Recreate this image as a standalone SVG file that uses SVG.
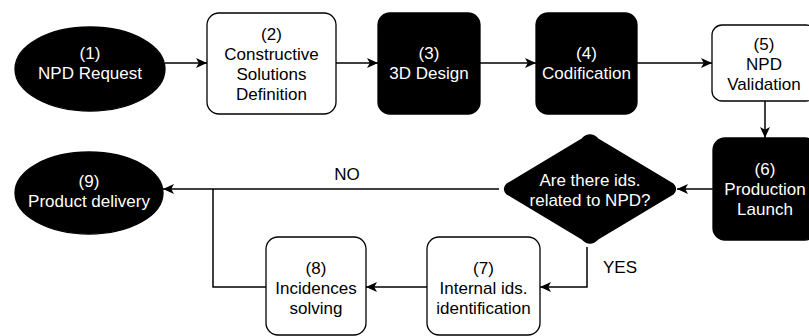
<svg xmlns="http://www.w3.org/2000/svg" width="809" height="336" viewBox="0 0 809 336">
<defs>
<marker id="arr" viewBox="0 0 10 10" refX="10" refY="5" markerWidth="11" markerHeight="11" markerUnits="userSpaceOnUse" orient="auto">
<path d="M0,0.5 L10,5 L0,9.5 L2.5,5 Z" fill="#000"/>
</marker>
<style>
.wb{fill:#fff;stroke:#000;stroke-width:1.3}
.bk{fill:#000;stroke:#000;stroke-width:1.3}
text{font-family:"Liberation Sans",Arial,sans-serif;font-size:17px;text-anchor:middle;dominant-baseline:central}
.w{fill:#fff}
.k{fill:#000}
.c{fill:none;stroke:#000;stroke-width:1.5}
</style>
</defs>
<rect width="809" height="336" fill="#fff"/>
<g id="connectors">
<path class="c" d="M165,63 L207,63" marker-end="url(#arr)"/>
<path class="c" d="M336,63 L378,63" marker-end="url(#arr)"/>
<path class="c" d="M480,63 L536,63" marker-end="url(#arr)"/>
<path class="c" d="M637,63 L712,63" marker-end="url(#arr)"/>
<path class="c" d="M765,101 L765,138" marker-end="url(#arr)"/>
<path class="c" d="M713,189 L677,189" marker-end="url(#arr)"/>
<path class="c" d="M499,189 L163,189" marker-end="url(#arr)"/>
<text class="k" x="347" y="174">NO</text>
<path class="c" d="M587,247 L587,287 L540,287" marker-end="url(#arr)"/>
<text class="k" x="620" y="267">YES</text>
<path class="c" d="M427,287 L366,287" marker-end="url(#arr)"/>
<path class="c" d="M266,287 L213,287 L213,189"/>
</g>
<g id="n1">
<ellipse class="bk" cx="90" cy="69" rx="75" ry="42"/>
<text class="w" x="90" y="53">(1)</text>
<text class="w" x="90" y="73">NPD Request</text>
</g>
<g id="n2">
<rect class="wb" x="207" y="13" width="129" height="101" rx="12"/>
<text class="k" x="271.5" y="34">(2)</text>
<text class="k" x="271.5" y="54">Constructive</text>
<text class="k" x="271.5" y="74">Solutions</text>
<text class="k" x="271.5" y="94">Definition</text>
</g>
<g id="n3">
<rect class="bk" x="378" y="13" width="102" height="101" rx="12"/>
<text class="w" x="429" y="53">(3)</text>
<text class="w" x="429" y="73">3D Design</text>
</g>
<g id="n4">
<rect class="bk" x="536" y="13" width="101" height="101" rx="12"/>
<text class="w" x="586.5" y="53">(4)</text>
<text class="w" x="586.5" y="73">Codification</text>
</g>
<g id="n5">
<rect class="wb" x="712" y="25" width="104" height="76" rx="10"/>
<text class="k" x="764" y="44">(5)</text>
<text class="k" x="764" y="64">NPD</text>
<text class="k" x="764" y="84">Validation</text>
</g>
<g id="n6">
<rect class="bk" x="713" y="138" width="104" height="102" rx="12"/>
<text class="w" x="765" y="169">(6)</text>
<text class="w" x="765" y="189">Production</text>
<text class="w" x="765" y="209">Launch</text>
</g>
<g id="d1">
<path class="bk" d="M590,135 Q594,135 598,139 L673,184 Q678,189 673,194 L598,239 Q594,243 590,243 Q586,243 582,239 L507,194 Q502,189 507,184 L582,139 Q586,135 590,135 Z"/>
<text class="w" x="590" y="180">Are there ids.</text>
<text class="w" x="590" y="200">related to NPD?</text>
</g>
<g id="n7">
<rect class="wb" x="427" y="237" width="113" height="98" rx="12"/>
<text class="k" x="483.5" y="268">(7)</text>
<text class="k" x="483.5" y="288">Internal ids.</text>
<text class="k" x="483.5" y="308">identification</text>
</g>
<g id="n8">
<rect class="wb" x="266" y="237" width="100" height="98" rx="12"/>
<text class="k" x="316" y="268">(8)</text>
<text class="k" x="316" y="288">Incidences</text>
<text class="k" x="316" y="308">solving</text>
</g>
<g id="n9">
<ellipse class="bk" cx="89" cy="193" rx="74" ry="41"/>
<text class="w" x="89" y="181">(9)</text>
<text class="w" x="89" y="201">Product delivery</text>
</g>
</svg>
